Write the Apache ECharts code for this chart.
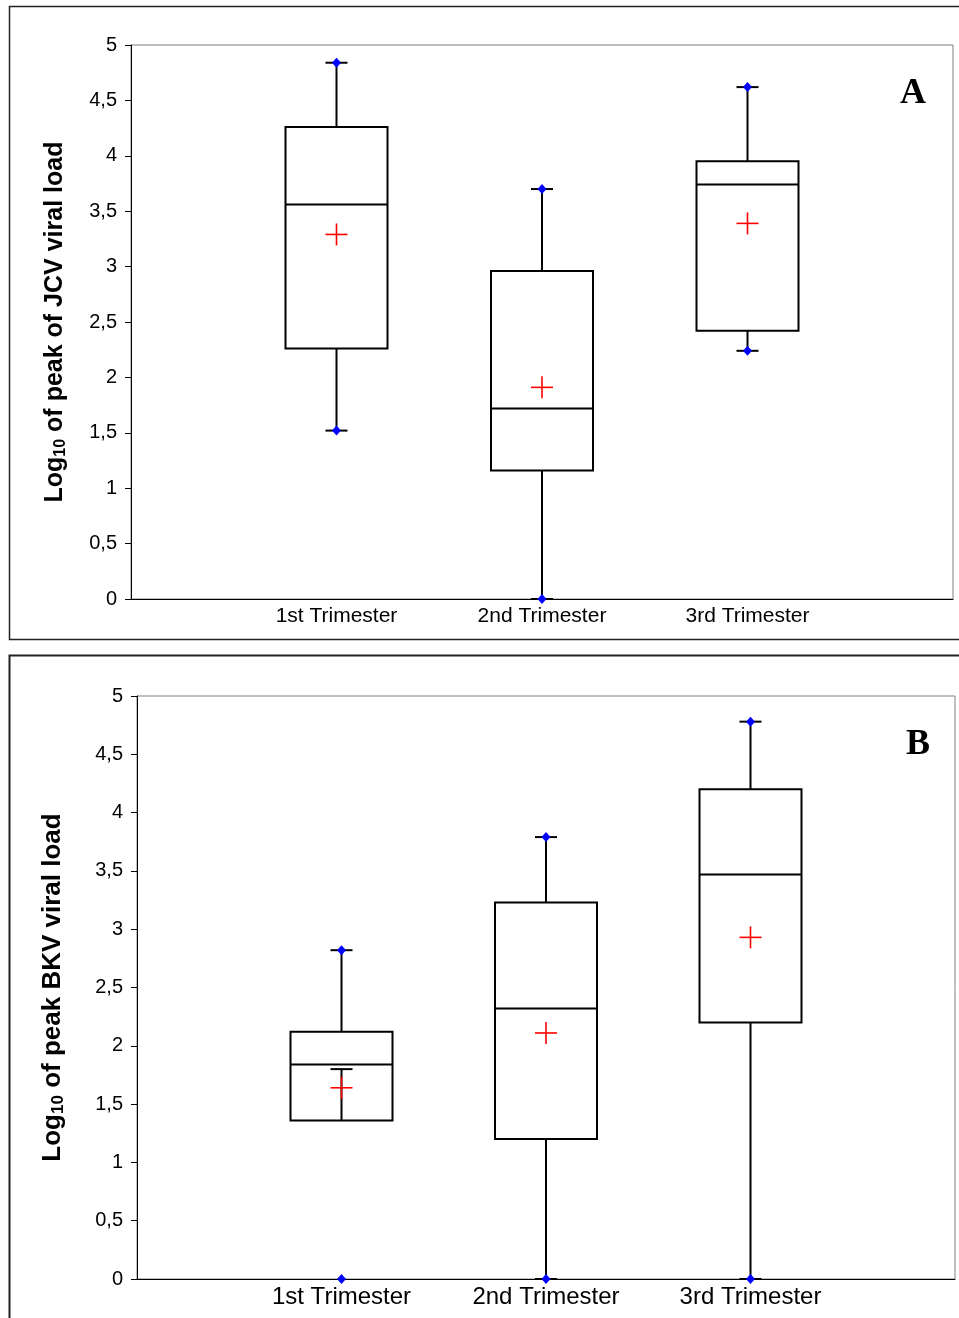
<!DOCTYPE html>
<html>
<head>
<meta charset="utf-8">
<script src="https://cdn.jsdelivr.net/npm/echarts@6/dist/echarts.min.js"></script>
<style>
  html, body { margin: 0; padding: 0; background: #fff; }
  #main { width: 959px; height: 1318px; }
</style>
</head>
<body>
<div id="main"></div>
<script>
// categories and tick labels
const categories = ['1st Trimester', '2nd Trimester', '3rd Trimester'];
const catPos = [1, 2, 3];

// Panel A: JCV
const jcvMin = [1.52, 0, 2.24];
const jcvLowCap = [1.52, 0, 2.24];
const jcvQ1 = [2.26, 1.16, 2.42];
const jcvMedian = [3.56, 1.72, 3.74];
const jcvQ3 = [4.26, 2.96, 3.95];
const jcvHighCap = [4.84, 3.70, 4.62];
const jcvMean = [3.29, 1.91, 3.39];

// Panel B: BKV
const bkvMin = [0, 0, 0];
const bkvLowCap = [1.80, 0, 0];
const bkvQ1 = [1.36, 1.20, 2.20];
const bkvMedian = [1.84, 2.32, 3.47];
const bkvQ3 = [2.12, 3.23, 4.20];
const bkvHighCap = [2.82, 3.79, 4.78];
const bkvMean = [1.64, 2.11, 2.93];

function rows(min, lowCap, q1, med, q3, highCap, mean) {
  return catPos.map((x, i) => [x, min[i], lowCap[i], q1[i], med[i], q3[i], highCap[i], mean[i]]);
}

const BOX_W = 102, CAP_W = 22, PLUS = 11;

function renderBox(params, api) {
  const x = api.value(0);
  const p = k => api.coord([x, api.value(k)]);
  const pMin = p(1), pLow = p(2), pQ1 = p(3), pMed = p(4), pQ3 = p(5), pHigh = p(6), pMean = p(7);
  const cx = pQ1[0];
  const black = { stroke: '#000', lineWidth: 2 };
  const line = (x1, y1, x2, y2, style) => ({ type: 'line', shape: { x1, y1, x2, y2 }, style });
  const diamond = pt => ({
    type: 'polygon',
    shape: { points: [[pt[0], pt[1] - 5], [pt[0] + 4.5, pt[1]], [pt[0], pt[1] + 5], [pt[0] - 4.5, pt[1]]] },
    style: { fill: '#0000ff' }, z2: 5
  });
  const red = { stroke: '#ff0000', lineWidth: 1.6 };
  return {
    type: 'group',
    children: [
      line(cx, pQ1[1], cx, pLow[1], black),
      line(cx, pQ3[1], cx, pHigh[1], black),
      { type: 'rect', shape: { x: cx - BOX_W / 2, y: pQ3[1], width: BOX_W, height: pQ1[1] - pQ3[1] },
        style: { fill: 'none', stroke: '#000', lineWidth: 2 } },
      line(cx - BOX_W / 2, pMed[1], cx + BOX_W / 2, pMed[1], black),
      line(cx - CAP_W / 2, pLow[1], cx + CAP_W / 2, pLow[1], black),
      line(cx - CAP_W / 2, pHigh[1], cx + CAP_W / 2, pHigh[1], black),
      diamond(pMin),
      diamond(pHigh),
      line(cx - PLUS, pMean[1], cx + PLUS, pMean[1], red),
      line(cx, pMean[1] - PLUS, cx, pMean[1] + PLUS, red)
    ]
  };
}

function yAxis(gridIndex, name, nameSize, nameGap) {
  return {
    type: 'value', gridIndex, min: 0, max: 5, interval: 0.5,
    name, nameLocation: 'middle', nameGap, nameRotate: 90,
    nameTextStyle: {
      rich: {
        b: { fontFamily: 'Liberation Sans', fontWeight: 'bold', fontSize: nameSize, color: '#000' },
        s: { fontFamily: 'Liberation Sans', fontWeight: 'bold', fontSize: Math.round(nameSize * 0.64), color: '#000', padding: [11, 0, 0, 0] }
      }
    },
    axisLine: { show: true, lineStyle: { color: '#000', width: 1 } },
    axisTick: { show: true, inside: false, length: 6, lineStyle: { color: '#000' } },
    axisLabel: {
      margin: 14, fontFamily: 'Liberation Sans', fontSize: 20, color: '#000',
      formatter: v => String(v).replace('.', ',')
    },
    splitLine: { show: false }
  };
}

function xAxis(gridIndex, fontSize, margin) {
  return {
    type: 'value', gridIndex, min: 0, max: 4, interval: 1,
    axisLine: { show: true, lineStyle: { color: '#000', width: 1 } },
    axisTick: { show: false },
    splitLine: { show: false },
    axisLabel: {
      margin, fontFamily: 'Liberation Sans', fontSize, color: '#000',
      showMinLabel: false, showMaxLabel: false,
      formatter: v => categories[v - 1] || ''
    }
  };
}

const chart = echarts.init(document.getElementById('main'), null, { renderer: 'canvas' });

chart.setOption({
  animation: false,
  backgroundColor: '#fff',
  grid: [
    { left: 131, top: 45, width: 822, height: 554, show: true, borderColor: '#808080', borderWidth: 1 },
    { left: 137, top: 696, width: 818, height: 583, show: true, borderColor: '#808080', borderWidth: 1 }
  ],
  xAxis: [xAxis(0, 21, 7), xAxis(1, 24, 6)],
  yAxis: [
    yAxis(0, '{b|Log}{s|10}{b| of peak of JCV viral load}', 25, 62),
    yAxis(1, '{b|Log}{s|10}{b| of peak BKV viral load}', 26, 70)
  ],
  graphic: [
    { type: 'rect', shape: { x: 9.5, y: 6.5, width: 960, height: 633 }, style: { fill: 'none', stroke: '#222', lineWidth: 1.5 }, silent: true },
    { type: 'rect', shape: { x: 9.5, y: 655.5, width: 960, height: 700 }, style: { fill: 'none', stroke: '#222', lineWidth: 2 }, silent: true },
    { type: 'text', x: 913, y: 94, style: { text: 'A', fontFamily: 'Liberation Serif', fontWeight: 'bold', fontSize: 36, fill: '#000', align: 'center', verticalAlign: 'middle' } },
    { type: 'text', x: 918, y: 745, style: { text: 'B', fontFamily: 'Liberation Serif', fontWeight: 'bold', fontSize: 36, fill: '#000', align: 'center', verticalAlign: 'middle' } }
  ],
  series: [
    {
      type: 'custom', name: 'JCV', xAxisIndex: 0, yAxisIndex: 0, clip: false,
      renderItem: renderBox, encode: { x: 0, y: [1, 2, 3, 4, 5, 6, 7] },
      data: rows(jcvMin, jcvLowCap, jcvQ1, jcvMedian, jcvQ3, jcvHighCap, jcvMean)
    },
    {
      type: 'custom', name: 'BKV', xAxisIndex: 1, yAxisIndex: 1, clip: false,
      renderItem: renderBox, encode: { x: 0, y: [1, 2, 3, 4, 5, 6, 7] },
      data: rows(bkvMin, bkvLowCap, bkvQ1, bkvMedian, bkvQ3, bkvHighCap, bkvMean)
    }
  ]
});
</script>
</body>
</html>
